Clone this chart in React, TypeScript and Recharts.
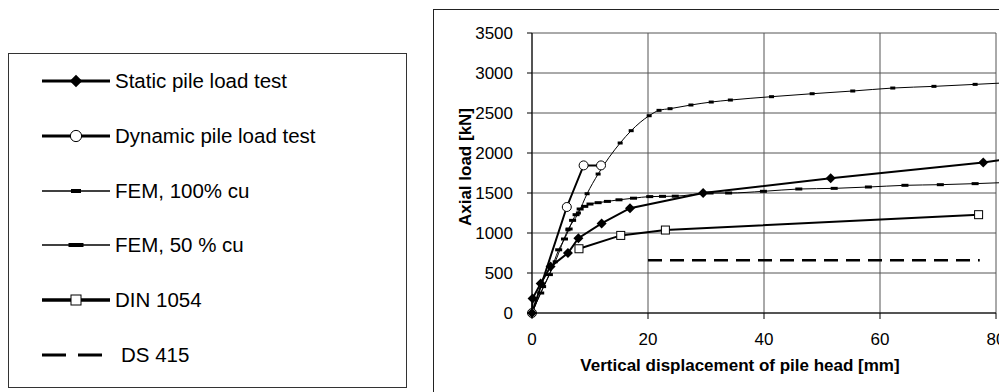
import React from "react";
import { LineChart, Line, XAxis, YAxis, CartesianGrid } from "recharts";

// values (x in mm, y in kN)
const staticX = [0, 0.1, 1.5, 3.2, 6.2, 8.0, 12.0, 16.9, 29.5, 51.5, 77.8, 82];
const staticY = [0, 180, 370, 580, 750, 935, 1120, 1310, 1500, 1685, 1880, 1925];

const dynamicX = [0, 6.0, 8.9, 11.9];
const dynamicY = [0, 1325, 1845, 1845];

const fem100X = [0, 2.0, 4.0, 6.2, 8.0, 9.5, 11.4, 15.2, 17.1, 20.2, 21.9, 23.8, 27.4, 30.9, 34.2, 41.3, 48.3, 55.3, 62.2, 69.3, 76.4, 82];
const fem100Y = [0, 330, 640, 1040, 1250, 1491, 1737, 2125, 2279, 2466, 2533, 2554, 2600, 2637, 2662, 2704, 2741, 2775, 2812, 2833, 2858, 2878];

const fem50X = [0, 1.5, 3.0, 4.6, 5.6, 6.4, 7.0, 7.6, 8.3, 9.1, 10.0, 11.4, 13.0, 15.0, 17.5, 20.3, 22.5, 24.7, 30.7, 33.9, 39.9, 46.0, 52.1, 58.0, 64.3, 70.4, 76.4, 82];
const fem50Y = [0, 250, 480, 790, 925, 1050, 1158, 1229, 1300, 1333, 1362, 1379, 1395, 1415, 1435, 1455, 1458, 1460, 1500, 1500, 1521, 1550, 1558, 1575, 1596, 1604, 1617, 1632];

const dinX = [8.1, 15.3, 23.0, 77.0];
const dinY = [803, 970, 1037, 1229];

const ds415X = [20, 77.2];
const ds415Y = [660, 660];

const seriesNames = [
  "Static pile load test",
  "Dynamic pile load test",
  "FEM, 100% cu",
  "FEM, 50 % cu",
  "DIN 1054",
  "DS 415",
];

const xTicks = [0, 20, 40, 60, 80];
const yTicks = [0, 500, 1000, 1500, 2000, 2500, 3000, 3500];
const xTitle = "Vertical displacement of pile head [mm]";
const yTitle = "Axial load [kN]";

const FONT = "'Liberation Sans', Arial, Helvetica, sans-serif";
const X_MAX = 80;

const toPoints = (xs: number[], ys: number[]) => xs.map((x, i) => ({ x, y: ys[i] }));

type Series = {
  name: string;
  data: { x: number; y: number }[];
  width: number;
  legendWidth: number;
  marker: string | null;
  curve: "linear" | "monotone";
  dash?: string;
  legendDash?: string;
};

const series: Series[] = [
  { name: seriesNames[2], data: toPoints(fem100X, fem100Y), width: 1, legendWidth: 1.3, marker: "dashS", curve: "monotone" },
  { name: seriesNames[3], data: toPoints(fem50X, fem50Y), width: 1, legendWidth: 1.3, marker: "dashL", curve: "monotone" },
  { name: seriesNames[5], data: toPoints(ds415X, ds415Y), width: 2.5, legendWidth: 3.2, marker: null, curve: "linear", dash: "14 8", legendDash: "24 12" },
  { name: seriesNames[4], data: toPoints(dinX, dinY), width: 2, legendWidth: 3.3, marker: "square", curve: "linear" },
  { name: seriesNames[1], data: toPoints(dynamicX, dynamicY), width: 2, legendWidth: 3, marker: "circle", curve: "linear" },
  { name: seriesNames[0], data: toPoints(staticX, staticY), width: 2, legendWidth: 3, marker: "diamond", curve: "linear" },
];

function Marker({ kind, cx, cy, big }: { kind: string | null; cx: number; cy: number; big?: boolean }) {
  const s = big ? 1.25 : 1;
  const h = big ? 4 : 3;
  switch (kind) {
    case "diamond":
      return (
        <polygon
          points={`${cx},${cy - 5 * s} ${cx + 5 * s},${cy} ${cx},${cy + 5 * s} ${cx - 5 * s},${cy}`}
          fill="#000"
        />
      );
    case "circle":
      return <circle cx={cx} cy={cy} r={4.5 * s} fill="#fff" stroke="#000" strokeWidth={1} />;
    case "square":
      return <rect x={cx - 4 * s} y={cy - 4 * s} width={8 * s} height={8 * s} fill="#fff" stroke="#000" strokeWidth={1} />;
    case "dashS": {
      const w = big ? 10 : 5;
      return <rect x={cx - w / 2} y={cy - h / 2} width={w} height={h} fill="#000" />;
    }
    case "dashL": {
      const w = big ? 15 : 7;
      return <rect x={cx - w / 2} y={cy - h / 2} width={w} height={h} fill="#000" />;
    }
    default:
      return null;
  }
}

const makeDot = (s: Series) => (p: any) => {
  const key = `${s.name}-${p.index}`;
  if (!s.marker || p.payload.x > X_MAX) return <g key={key} />;
  return (
    <g key={key}>
      <Marker kind={s.marker} cx={p.cx} cy={p.cy} />
    </g>
  );
};

const legendOrder = seriesNames.map((n) => series.find((s) => s.name === n)!);

function ChartLegend() {
  return (
    <div
      style={{
        position: "absolute",
        left: 0,
        top: 45,
        width: 399,
        height: 335,
        boxSizing: "border-box",
        border: "1px solid #333",
        background: "#fff",
      }}
    >
      {legendOrder.map((s, i) => (
        <div
          key={s.name}
          style={{
            position: "absolute",
            left: 0,
            top: 27 + i * 54.8 - 12,
            height: 24,
            width: "100%",
          }}
        >
          <svg width={68} height={24} style={{ position: "absolute", left: 33, top: 0 }}>
            {s.legendDash ? (
              <line x1={0} y1={12} x2={60} y2={12} stroke="#000" strokeWidth={s.legendWidth} strokeDasharray={s.legendDash} />
            ) : (
              <line x1={0} y1={12} x2={68} y2={12} stroke="#000" strokeWidth={s.legendWidth} />
            )}
            <Marker kind={s.marker} cx={34} cy={12} big />
          </svg>
          <span
            style={{
              position: "absolute",
              left: s.legendDash ? 112 : 106,
              top: 0,
              lineHeight: "24px",
              fontSize: 20.5,
              fontFamily: FONT,
              color: "#000",
              whiteSpace: "nowrap",
            }}
          >
            {s.name}
          </span>
        </div>
      ))}
    </div>
  );
}

const XTitle = ({ viewBox }: any) => (
  <text
    x={viewBox.x + viewBox.width / 2 - 24}
    y={viewBox.y + viewBox.height - 2.5}
    textAnchor="middle"
    fontFamily={FONT}
    fontSize={17}
    fontWeight="bold"
    fill="#000"
  >
    {xTitle}
  </text>
);

const YTitle = ({ viewBox }: any) => {
  const x = viewBox.x + 36.5;
  const y = viewBox.y + viewBox.height / 2 - 6;
  return (
    <text
      x={x}
      y={y}
      transform={`rotate(-90, ${x}, ${y})`}
      textAnchor="middle"
      fontFamily={FONT}
      fontSize={17}
      fontWeight="bold"
      fill="#000"
    >
      {yTitle}
    </text>
  );
};

export default function App() {
  const tick = { fontFamily: FONT, fontSize: 17, fill: "#000" };
  return (
    <div style={{ position: "relative", width: 999, height: 384, background: "#fff" }}>
      <style>{`.recharts-surface [clip-path]{clip-path:none}`}</style>
      <div style={{ position: "absolute", left: -1, top: 90, width: 1, height: 250, background: "#666" }} />
      <ChartLegend />
      <div
        style={{
          position: "absolute",
          left: 425,
          top: 1,
          width: 574,
          height: 383,
          borderLeft: "1px solid #222",
          borderTop: "1px solid #222",
          overflow: "hidden",
          background: "#fff",
        }}
      >
        <LineChart width={620} height={420} margin={{ top: 23, right: 58, left: 0, bottom: 57 }}>
          <CartesianGrid stroke="#555" strokeWidth={1} />
          <XAxis
            dataKey="x"
            type="number"
            domain={[0, X_MAX]}
            ticks={xTicks}
            allowDataOverflow
            height={60}
            tick={tick}
            tickSize={6}
            tickMargin={14}
            stroke="#000"
            tickLine={{ stroke: "#000" }}
            label={{ content: XTitle }}
          />
          <YAxis
            type="number"
            domain={[0, 3500]}
            ticks={yTicks}
            allowDataOverflow
            width={98}
            tick={tick}
            tickSize={5}
            tickMargin={14}
            stroke="#000"
            tickLine={{ stroke: "#000" }}
            label={{ content: YTitle }}
          />
          {series.map((s) => (
            <Line
              key={s.name}
              data={s.data}
              dataKey="y"
              name={s.name}
              type={s.curve}
              stroke="#000"
              strokeWidth={s.width}
              strokeDasharray={s.dash}
              dot={makeDot(s)}
              activeDot={false}
              isAnimationActive={false}
            />
          ))}
        </LineChart>
      </div>
    </div>
  );
}
